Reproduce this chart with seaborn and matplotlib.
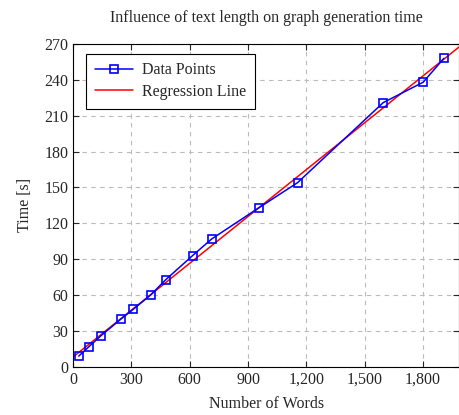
import matplotlib
matplotlib.use("Agg")
import matplotlib.pyplot as plt
import matplotlib.ticker as mticker
import numpy as np
import seaborn as sns

words = [29, 82, 143, 246, 308, 398, 477, 614, 713, 955, 1154, 1595, 1800, 1907]
seconds = [9, 17, 26, 40, 48, 60, 73, 93, 107, 133, 154, 221, 238, 258]
x_ticks = [0, 300, 600, 900, 1200, 1500, 1800]
y_ticks = [0, 30, 60, 90, 120, 150, 180, 210, 240, 270]

sns.set_style("ticks")
plt.rcParams["font.family"] = ["Liberation Serif", "DejaVu Serif"]
plt.rcParams["font.size"] = 11.5

fig = plt.figure(figsize=(4.6, 4.15), dpi=100)
ax = fig.add_axes([0.159, 0.116, 0.839, 0.778])

# least-squares fit of the measured points
slope, intercept = np.polyfit(words, seconds, 1)
x_fit = np.array([0, 1985])
y_fit = slope * x_fit + intercept

sns.lineplot(x=words, y=seconds, ax=ax, color="blue", lw=1.1, marker="s",
             markersize=6, markerfacecolor="none", markeredgecolor="blue",
             markeredgewidth=1.2, label="Data Points", zorder=3)
sns.lineplot(x=x_fit, y=y_fit, ax=ax, color="red", lw=1.1,
             label="Regression Line", zorder=2)

ax.set_xlim(0, 1985)
ax.set_ylim(0, 270)
ax.set_xticks(x_ticks)
ax.set_yticks(y_ticks)
ax.xaxis.set_major_formatter(mticker.FuncFormatter(lambda v, p: f"{int(v):,}"))
ax.grid(True, color="#bbbbbb", linestyle=(0, (4, 4)), lw=0.8)
ax.tick_params(direction="in", top=True, right=True, length=4, labelsize=11.5)
for s in ax.spines.values():
    s.set_linewidth(0.8)
    s.set_color("black")

ax.set_xlabel("Number of Words", fontsize=11.5, labelpad=6)
ax.set_ylabel("Time [s]", fontsize=11.5, labelpad=8)
ax.set_title("Influence of text length on graph generation time", fontsize=11.5, pad=16)

leg = ax.legend(loc="upper left", bbox_to_anchor=(0.012, 0.995), fancybox=False,
                edgecolor="black", framealpha=1, fontsize=11.5, handlelength=2.4,
                borderpad=0.55, labelspacing=0.35, handletextpad=0.6)
leg.get_frame().set_linewidth(0.8)

fig.savefig("out.png", dpi=100)
